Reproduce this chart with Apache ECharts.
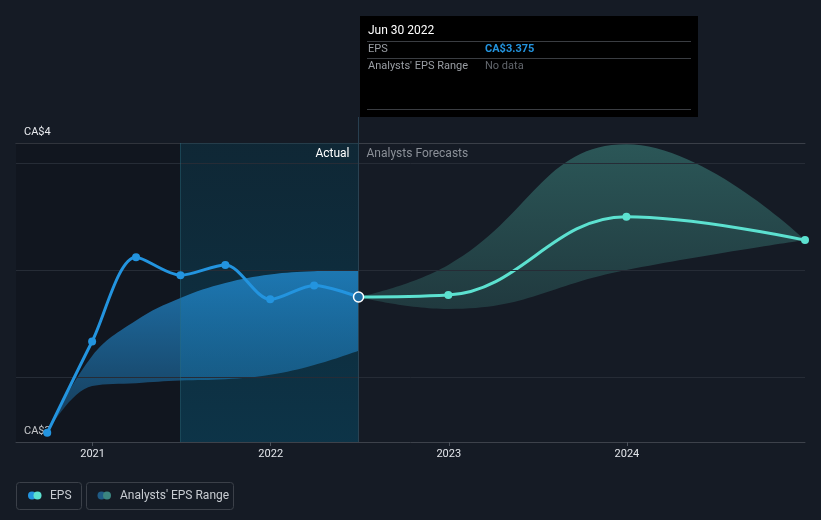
<!DOCTYPE html>
<html>
<head>
<meta charset="utf-8">
<script src="https://cdn.jsdelivr.net/npm/echarts@6/dist/echarts.min.js"></script>
<style>
  html, body { margin: 0; padding: 0; background: #151b25; }
  #chart { width: 821px; height: 520px; }
</style>
</head>
<body>
<div id="chart"></div>
<script>
// ---- data ----
const actualDates = ['2020-09-30','2020-12-31','2021-03-31','2021-06-30','2021-09-30','2021-12-31','2022-03-31','2022-06-30'];
const actualEPS   = [2.740, 3.167, 3.561, 3.477, 3.525, 3.364, 3.429, 3.375];
const actualRangeLow  = [2.740, 2.959, 2.972, 2.984, 2.990, 3.011, 3.057, 3.124];
const actualRangeHigh = [2.740, 3.099, 3.265, 3.370, 3.440, 3.480, 3.495, 3.501];

const forecastDates = ['2022-06-30','2022-12-31','2023-12-31','2024-12-31'];
const forecastEPS   = [3.375, 3.384, 3.750, 3.641];
const forecastLow   = [3.375, 3.319, 3.501, 3.641];
const forecastHigh  = [3.375, 3.525, 4.089, 3.641];

const xTickLabels = ['2021','2022','2023','2024'];
const yTickLabels = ['CA$3','CA$4'];
const gridValues = [3.0, 3.5, 4.0];

const xMin = '2020-07-28', xMax = '2024-12-31';
const yMin = 2.697, yMax = 4.095;
const pastYearStart = '2021-06-30';
const todayDate = '2022-06-30';

const FONT = 'Roboto, "Noto Sans", sans-serif';
const pair = (d, v) => d.map((x, i) => [x, v[i]]);
const diff = (d, hi, lo) => d.map((x, i) => [x, +(hi[i] - lo[i]).toFixed(4)]);

const chart = echarts.init(document.getElementById('chart'), null, { renderer: 'canvas' });

const lastIdx = actualDates.length - 1;
const actualData = actualDates.map((d, i) => i === lastIdx
  ? { value: [d, actualEPS[i]], symbolSize: 10, itemStyle: { color: '#1d6ea6', borderColor: '#ffffff', borderWidth: 1.5 } }
  : [d, actualEPS[i]]);

const option = {
  backgroundColor: '#151b25',
  animation: false,
  grid: { left: 16, right: 16, top: 143, bottom: 78, containLabel: false },
  xAxis: [{
    type: 'time', min: xMin, max: xMax,
    minInterval: 365 * 86400000, maxInterval: 366 * 86400000,
    axisLine: { show: true, lineStyle: { color: '#3d424b', width: 1 } },
    axisTick: { show: true, length: 4, lineStyle: { color: '#4a505a' } },
    splitLine: { show: false },
    axisLabel: {
      color: '#e2e5ea', fontSize: 11, fontFamily: FONT, margin: 7,
      formatter: (v) => { const y = String(new Date(v).getFullYear()); return xTickLabels.includes(y) ? y : ''; }
    }
  }, {
    type: 'value', position: 'top', min: 0, max: 1,
    axisLine: { show: true, lineStyle: { color: '#3a3f48', width: 1 } },
    axisTick: { show: false }, axisLabel: { show: false }, splitLine: { show: false }
  }],
  yAxis: [{
    type: 'value', min: yMin, max: yMax,
    axisLine: { show: false }, axisTick: { show: false }, axisLabel: { show: false }, splitLine: { show: false }
  }, {
    type: 'value', min: 0, max: 1, interval: 1, position: 'left',
    axisLine: { show: false }, axisTick: { show: false }, splitLine: { show: false },
    axisLabel: {
      inside: true, margin: 8, color: '#e8eaee', fontSize: 11, fontFamily: FONT,
      verticalAlign: 'bottom', padding: [0, 0, 5, 0],
      formatter: (v) => yTickLabels[Math.round(v)]
    }
  }],
  series: [
    {
      name: 'bg', type: 'line', data: [], z: 1, silent: true,
      markArea: {
        silent: true,
        data: [
          [{ xAxis: xMin, itemStyle: { color: 'rgba(0,0,0,0.16)' } }, { xAxis: pastYearStart }],
          [{ xAxis: pastYearStart, itemStyle: {
              color: new echarts.graphic.LinearGradient(0, 0, 0, 1, [
                { offset: 0, color: 'rgba(6,58,78,0.40)' },
                { offset: 1, color: 'rgba(6,72,100,0.55)' }
              ]) } }, { xAxis: todayDate }]
        ]
      },
      markLine: {
        silent: true, symbol: 'none', label: { show: false },
        data: [
          { yAxis: gridValues[0], lineStyle: { color: '#262c36', width: 1, type: 'solid' } },
          { yAxis: gridValues[1], lineStyle: { color: '#262c36', width: 1, type: 'solid' } },
          { yAxis: gridValues[2], lineStyle: { color: '#262c36', width: 1, type: 'solid' } },
          { xAxis: pastYearStart, lineStyle: { color: 'rgba(40,110,130,0.45)', width: 1, type: 'solid' } },
          { xAxis: todayDate, lineStyle: { color: '#2a4252', width: 1, type: 'solid' } }
        ]
      }
    },
    {
      name: 'arLow', type: 'line', stack: 'ar', smooth: 0.4, symbol: 'none', z: 2,
      lineStyle: { opacity: 0 }, data: pair(actualDates, actualRangeLow), silent: true
    },
    {
      name: 'arHigh', type: 'line', stack: 'ar', smooth: 0.4, symbol: 'none', z: 2,
      lineStyle: { opacity: 0 }, silent: true,
      areaStyle: { color: new echarts.graphic.LinearGradient(0, 0, 0, 1, [
        { offset: 0, color: 'rgba(35,148,223,0.72)' },
        { offset: 1, color: 'rgba(35,148,223,0.28)' }
      ]), opacity: 1 },
      data: diff(actualDates, actualRangeHigh, actualRangeLow)
    },
    {
      name: 'frLow', type: 'line', stack: 'fr', smooth: 0.45, symbol: 'none', z: 2,
      lineStyle: { opacity: 0 }, data: pair(forecastDates, forecastLow), silent: true
    },
    {
      name: 'frHigh', type: 'line', stack: 'fr', smooth: 0.45, symbol: 'none', z: 2,
      lineStyle: { opacity: 0 }, silent: true,
      areaStyle: { color: new echarts.graphic.LinearGradient(0, 0, 0, 1, [
        { offset: 0, color: 'rgba(88,208,190,0.33)' },
        { offset: 1, color: 'rgba(88,208,190,0.17)' }
      ]), opacity: 1 },
      data: diff(forecastDates, forecastHigh, forecastLow)
    },
    {
      name: 'EPS forecast', type: 'line', smooth: 0.4, z: 4,
      symbol: 'circle', symbolSize: 8, showSymbol: true,
      lineStyle: { color: '#5ce1d0', width: 3 }, itemStyle: { color: '#5ce1d0' },
      data: forecastDates.map((d, i) => i === 0 ? { value: [d, forecastEPS[i]], symbol: 'none' } : [d, forecastEPS[i]])
    },
    {
      name: 'EPS', type: 'line', smooth: 0.3, z: 5,
      symbol: 'circle', symbolSize: 8, showSymbol: true,
      lineStyle: { color: '#2394df', width: 3 }, itemStyle: { color: '#2394df' },
      data: actualData
    }
  ]
};
chart.setOption(option);

// overlay elements positioned via the chart's own scales
const xToday = chart.convertToPixel({ xAxisIndex: 0 }, todayDate);
const yTop = chart.convertToPixel({ yAxisIndex: 0 }, yMax);
const tipX = 360, tipY = 16, tipW = 338, tipH = 101;

chart.setOption({
  graphic: [
    { type: 'line', shape: { x1: xToday, y1: tipY + tipH, x2: xToday, y2: yTop }, style: { stroke: '#2a4252', lineWidth: 1 }, z: 10 },
    { type: 'text', x: xToday - 9, y: 154, style: { text: 'Actual', fill: '#ffffff', font: '12px ' + FONT, textAlign: 'right', textVerticalAlign: 'middle' }, z: 10 },
    { type: 'text', x: xToday + 8, y: 154, style: { text: 'Analysts Forecasts', fill: '#8b9098', font: '12px ' + FONT, textAlign: 'left', textVerticalAlign: 'middle' }, z: 10 },
    // tooltip box
    { type: 'group', z: 20, children: [
      { type: 'rect', shape: { x: tipX, y: tipY, width: tipW, height: tipH }, style: { fill: '#000000' } },
      { type: 'text', x: tipX + 8, y: 31, style: { text: 'Jun 30 2022', fill: '#ffffff', font: '12px ' + FONT, textVerticalAlign: 'middle' } },
      { type: 'line', shape: { x1: tipX + 7, y1: 41.5, x2: tipX + 331, y2: 41.5 }, style: { stroke: '#3a3d42', lineWidth: 1 } },
      { type: 'text', x: tipX + 8, y: 49, style: { text: 'EPS', fill: '#9a9ea4', font: '11px ' + FONT, textVerticalAlign: 'middle' } },
      { type: 'text', x: tipX + 125, y: 49, style: { text: 'CA$' + actualEPS[lastIdx].toFixed(3), fill: '#2394df', font: 'bold 11px ' + FONT, textVerticalAlign: 'middle' } },
      { type: 'line', shape: { x1: tipX + 7, y1: 58.5, x2: tipX + 331, y2: 58.5 }, style: { stroke: '#3a3d42', lineWidth: 1 } },
      { type: 'text', x: tipX + 8, y: 66, style: { text: "Analysts' EPS Range", fill: '#9a9ea4', font: '11px ' + FONT, textVerticalAlign: 'middle' } },
      { type: 'text', x: tipX + 125, y: 66, style: { text: 'No data', fill: '#62666c', font: '11px ' + FONT, textVerticalAlign: 'middle' } },
      { type: 'line', shape: { x1: tipX + 7, y1: 109.5, x2: tipX + 331, y2: 109.5 }, style: { stroke: '#3a3d42', lineWidth: 1 } }
    ]},
    // legend
    { type: 'group', z: 20, children: [
      { type: 'rect', shape: { x: 16.5, y: 482.5, width: 65, height: 27, r: 3 }, style: { fill: 'none', stroke: '#3b4049', lineWidth: 1 } },
      { type: 'circle', shape: { cx: 32, cy: 495.5, r: 4 }, style: { fill: '#2394df' } },
      { type: 'circle', shape: { cx: 37.5, cy: 495.5, r: 4 }, style: { fill: '#5ce1d0' } },
      { type: 'text', x: 50, y: 495.5, style: { text: 'EPS', fill: '#c8ccd2', font: '12px ' + FONT, textVerticalAlign: 'middle' } },
      { type: 'rect', shape: { x: 86.5, y: 482.5, width: 147, height: 27, r: 3 }, style: { fill: 'none', stroke: '#3b4049', lineWidth: 1 } },
      { type: 'circle', shape: { cx: 101.5, cy: 495.5, r: 4 }, style: { fill: '#1f5b85' } },
      { type: 'circle', shape: { cx: 107, cy: 495.5, r: 4 }, style: { fill: '#3b8580' } },
      { type: 'text', x: 120, y: 495.5, style: { text: "Analysts' EPS Range", fill: '#c8ccd2', font: '12px ' + FONT, textVerticalAlign: 'middle' } }
    ]}
  ]
});
</script>
</body>
</html>
